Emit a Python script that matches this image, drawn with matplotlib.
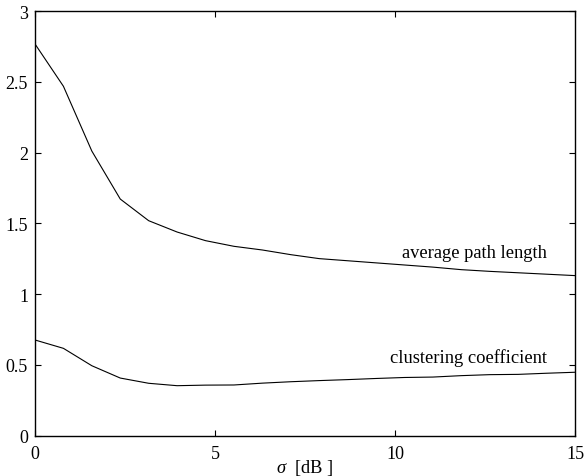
import numpy as np
import matplotlib
matplotlib.use("Agg")
import matplotlib.pyplot as plt

plt.rcParams['font.family'] = ['Liberation Serif', 'DejaVu Serif']
plt.rcParams['mathtext.fontset'] = 'custom'
plt.rcParams['mathtext.it'] = 'Liberation Serif:italic'
plt.rcParams['mathtext.rm'] = 'Liberation Serif'

sigma = np.linspace(0, 15, 20)
avg_path_length = [2.767, 2.468, 2.01, 1.671, 1.518, 1.438, 1.377, 1.337, 1.311,
                   1.278, 1.25, 1.235, 1.22, 1.205, 1.19, 1.172, 1.16, 1.15, 1.14, 1.13]
clustering_coef = [0.675, 0.616, 0.493, 0.406, 0.369, 0.352, 0.356, 0.357, 0.37,
                   0.38, 0.388, 0.395, 0.403, 0.41, 0.413, 0.423, 0.43, 0.432, 0.44, 0.447]
xticks = [0, 5, 10, 15]
yticks = [0, 0.5, 1, 1.5, 2, 2.5, 3]
ytick_labels = ['0', '0.5', '1', '1.5', '2', '2.5', '3']

fig = plt.figure(figsize=(5.84, 4.77), dpi=100)
ax = fig.add_axes([35/584, 1 - 436.5/477, 540/584, 424.5/477])
ax.plot(sigma, avg_path_length, color='black', lw=0.8)
ax.plot(sigma, clustering_coef, color='black', lw=0.8)
ax.set_xlim(0, 15)
ax.set_ylim(0, 3)
ax.set_xticks(xticks)
ax.set_xticklabels([str(t) for t in xticks])
ax.set_yticks(yticks)
ax.set_yticklabels(ytick_labels)
ax.tick_params(direction='in', length=4, width=0.8, top=True, right=True,
               labelsize=13, pad=5)
ax.tick_params(axis='x', pad=7)
for s in ax.spines.values():
    s.set_linewidth(1.0)

ax.text(14.21, 1.26, 'average path length', ha='right', va='baseline', fontsize=13.3)
ax.text(14.21, 0.52, 'clustering coefficient', ha='right', va='baseline', fontsize=13.3)

ax.set_xlabel(r'$\sigma$  [dB ]', fontsize=13.3)
ax.xaxis.set_label_coords(0.5, -0.05)

fig.savefig('out.png', dpi=100)
